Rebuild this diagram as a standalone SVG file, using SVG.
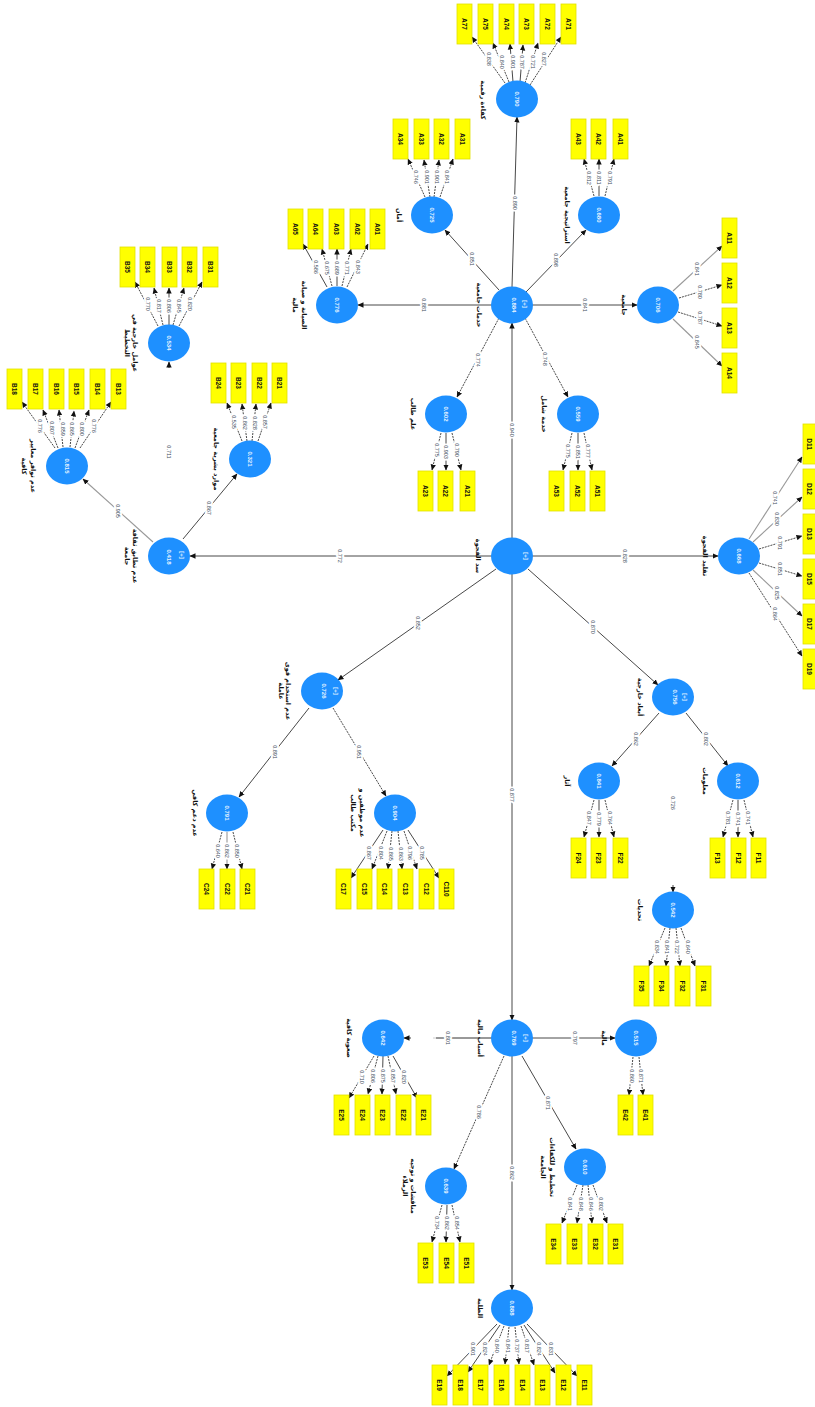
<svg xmlns="http://www.w3.org/2000/svg" width="815" height="1407" viewBox="0 0 815 1407">
<style>
text{text-anchor:middle;dominant-baseline:central}
.bg{fill:#fff}
.i{width:15px;height:40px;fill:#ff0;stroke:#e2e000;stroke-width:.8}
.n{fill:#1e90ff}
.t{font:bold 6.5px "Liberation Sans",sans-serif;fill:#111}
.v{font:bold 6px "Liberation Sans",sans-serif;fill:#e8f4ff}
.a{font:bold 6.5px "DejaVu Sans","Noto Sans",sans-serif;fill:#111}
.p{font:5.5px "Liberation Sans",sans-serif;fill:#3a4a5a;stroke:#fff;stroke-width:4px;paint-order:stroke;stroke-linejoin:round}
.f{font:5.5px "Liberation Sans",sans-serif;fill:#3a4a5a}
line{stroke:#333;stroke-width:.9;marker-end:url(#m)}
.d{stroke-dasharray:2 1}
.g{stroke:#999;stroke-width:1.1}
</style>
<defs><marker id="m" markerUnits="userSpaceOnUse" markerWidth="6" markerHeight="6" refX="5.5" refY="3" orient="auto"><path d="M0,.3 L6,3 L0,5.7 z" fill="#111"/></marker></defs>
<rect class="bg" width="815" height="1407"/>
<g id="connectors">
<line x1="512" y1="538" x2="512" y2="323"/>
<line x1="494" y1="556" x2="190" y2="556"/>
<line x1="530" y1="556" x2="718" y2="556"/>
<line x1="528" y1="569" x2="658" y2="685"/>
<line x1="496" y1="569" x2="338" y2="680"/>
<line x1="512" y1="574" x2="512" y2="1020"/>
<line x1="512" y1="287" x2="517" y2="117"/>
<line x1="499" y1="290" x2="445" y2="230"/>
<line x1="494" y1="305" x2="358" y2="305"/>
<line x1="526" y1="292" x2="586" y2="230"/>
<line x1="530" y1="305" x2="637" y2="305"/>
<line class="d" x1="525" y1="318" x2="568" y2="397"/>
<line class="d" x1="499" y1="318" x2="457" y2="397"/>
<line class="g" x1="153" y1="542" x2="83" y2="479"/>
<line x1="183" y1="539" x2="237" y2="474"/>
<line x1="309" y1="708" x2="239" y2="797"/>
<line class="d" x1="333" y1="708" x2="386" y2="796"/>
<line x1="659" y1="713" x2="612" y2="766"/>
<line x1="686" y1="713" x2="728" y2="766"/>
<path d="M494,1038H436" stroke="#333" fill="none"/><path d="M436,1038H433" stroke="#ccc" fill="none"/>
<line x1="411" y1="1038" x2="404" y2="1038"/>
<line x1="530" y1="1038" x2="615" y2="1038"/>
<line x1="522" y1="1056" x2="576" y2="1149"/>
<line class="d" x1="504" y1="1056" x2="454" y2="1169"/>
<line x1="512" y1="1056" x2="512" y2="1290"/>
<line x1="169" y1="368" x2="169" y2="362"/>
<line x1="673" y1="885" x2="673" y2="892"/>

<line class="d" x1="505" y1="83" x2="472" y2="37"/>
<line class="d" x1="509" y1="82" x2="493" y2="43"/>
<line x1="513" y1="82" x2="510" y2="44"/>
<line x1="520" y1="82" x2="523" y2="45"/>
<line class="d" x1="525" y1="83" x2="538" y2="43"/>
<line class="d" x1="530" y1="85" x2="561" y2="37"/>
<line class="d" x1="425" y1="197" x2="408" y2="159"/>
<line class="d" x1="430" y1="197" x2="424" y2="160"/>
<line class="d" x1="434" y1="197" x2="439" y2="160"/>
<line class="d" x1="440" y1="197" x2="453" y2="159"/>
<line x1="327" y1="287" x2="303" y2="244"/>
<line class="d" x1="332" y1="286" x2="322" y2="249"/>
<line x1="337" y1="286" x2="337" y2="249"/>
<line class="d" x1="342" y1="286" x2="351" y2="249"/>
<line class="d" x1="347" y1="287" x2="368" y2="244"/>
<line class="d" x1="594" y1="196" x2="584" y2="159"/>
<line x1="599" y1="196" x2="599" y2="159"/>
<line class="d" x1="605" y1="196" x2="614" y2="159"/>
<line class="g" x1="673" y1="291" x2="722" y2="246"/>
<line class="d" x1="679" y1="298" x2="722" y2="285"/>
<line class="d" x1="678" y1="312" x2="722" y2="326"/>
<line class="g" x1="673" y1="319" x2="722" y2="366"/>
<line class="d" x1="158" y1="326" x2="135" y2="282"/>
<line class="d" x1="163" y1="325" x2="154" y2="288"/>
<line x1="169" y1="325" x2="169" y2="288"/>
<line class="d" x1="173" y1="325" x2="184" y2="288"/>
<line class="d" x1="179" y1="326" x2="202" y2="282"/>
<line class="d" x1="55" y1="448" x2="22" y2="402"/>
<line class="d" x1="58" y1="448" x2="43" y2="410"/>
<line class="d" x1="63" y1="447" x2="59" y2="410"/>
<line class="d" x1="70" y1="447" x2="74" y2="411"/>
<line class="d" x1="75" y1="448" x2="89" y2="410"/>
<line class="d" x1="80" y1="448" x2="111" y2="402"/>
<line class="d" x1="242" y1="441" x2="227" y2="403"/>
<line class="d" x1="247" y1="441" x2="242" y2="404"/>
<line class="d" x1="252" y1="441" x2="256" y2="404"/>
<line class="d" x1="258" y1="441" x2="271" y2="403"/>
<line class="d" x1="441" y1="433" x2="432" y2="470"/>
<line x1="446" y1="433" x2="446" y2="470"/>
<line class="d" x1="452" y1="433" x2="461" y2="470"/>
<line class="d" x1="572" y1="433" x2="563" y2="470"/>
<line x1="578" y1="433" x2="578" y2="470"/>
<line class="d" x1="584" y1="433" x2="592" y2="470"/>
<line class="g" x1="749" y1="539" x2="802" y2="457"/>
<line class="g" x1="753" y1="542" x2="802" y2="497"/>
<line class="d" x1="759" y1="549" x2="802" y2="536"/>
<line class="d" x1="759" y1="563" x2="802" y2="576"/>
<line class="g" x1="753" y1="570" x2="802" y2="616"/>
<line class="d" x1="749" y1="573" x2="802" y2="656"/>
<line x1="383" y1="830" x2="351" y2="878"/>
<line class="d" x1="387" y1="831" x2="372" y2="869"/>
<line class="d" x1="392" y1="831" x2="388" y2="869"/>
<line class="d" x1="398" y1="831" x2="402" y2="869"/>
<line class="d" x1="404" y1="831" x2="417" y2="869"/>
<line x1="408" y1="830" x2="439" y2="878"/>
<line class="d" x1="222" y1="832" x2="212" y2="869"/>
<line class="g" x1="227" y1="832" x2="227" y2="869"/>
<line class="d" x1="233" y1="832" x2="242" y2="869"/>
<line class="d" x1="594" y1="800" x2="584" y2="837"/>
<line x1="599" y1="800" x2="599" y2="837"/>
<line class="d" x1="605" y1="800" x2="614" y2="837"/>
<line class="d" x1="733" y1="800" x2="723" y2="837"/>
<line x1="738" y1="800" x2="738" y2="837"/>
<line class="d" x1="744" y1="800" x2="753" y2="837"/>
<line class="d" x1="665" y1="928" x2="649" y2="966"/>
<line class="d" x1="670" y1="928" x2="666" y2="966"/>
<line class="d" x1="676" y1="928" x2="680" y2="966"/>
<line class="d" x1="681" y1="928" x2="695" y2="966"/>
<line class="d" x1="374" y1="1056" x2="349" y2="1098"/>
<line class="d" x1="378" y1="1056" x2="368" y2="1094"/>
<line x1="383" y1="1056" x2="382" y2="1094"/>
<line class="d" x1="388" y1="1056" x2="396" y2="1094"/>
<line x1="393" y1="1056" x2="417" y2="1098"/>
<line class="d" x1="633" y1="1057" x2="629" y2="1095"/>
<line class="d" x1="639" y1="1057" x2="643" y2="1095"/>
<line class="d" x1="577" y1="1185" x2="562" y2="1223"/>
<line class="d" x1="583" y1="1185" x2="577" y2="1223"/>
<line class="d" x1="588" y1="1185" x2="592" y2="1223"/>
<line class="d" x1="593" y1="1185" x2="607" y2="1223"/>
<line class="d" x1="442" y1="1205" x2="432" y2="1242"/>
<line x1="447" y1="1205" x2="446" y2="1242"/>
<line class="d" x1="452" y1="1205" x2="460" y2="1242"/>
<line x1="497" y1="1324" x2="447" y2="1376"/>
<line x1="500" y1="1325" x2="468" y2="1372"/>
<line class="d" x1="504" y1="1326" x2="489" y2="1365"/>
<line class="d" x1="509" y1="1327" x2="505" y2="1364"/>
<line class="d" x1="515" y1="1327" x2="519" y2="1364"/>
<line class="d" x1="521" y1="1326" x2="534" y2="1365"/>
<line x1="524" y1="1325" x2="555" y2="1373"/>
<line x1="527" y1="1324" x2="577" y2="1376"/>

<text class="p" transform="translate(512,430) rotate(90)">0.940</text>
<text class="p" transform="translate(340,556) rotate(90)">0.772</text>
<text class="p" transform="translate(625,556) rotate(90)">0.828</text>
<text class="p" transform="translate(593,627) rotate(90)">0.870</text>
<text class="p" transform="translate(418,623) rotate(90)">0.852</text>
<text class="p" transform="translate(512,795) rotate(90)">0.877</text>
<text class="p" transform="translate(515,203) rotate(90)">0.890</text>
<text class="p" transform="translate(472,259) rotate(90)">0.851</text>
<text class="p" transform="translate(424,305) rotate(90)">0.881</text>
<text class="p" transform="translate(556,260) rotate(90)">0.898</text>
<text class="p" transform="translate(585,305) rotate(90)">0.841</text>
<text class="p" transform="translate(545,359) rotate(90)">0.748</text>
<text class="p" transform="translate(478,360) rotate(90)">0.774</text>
<text class="p" transform="translate(118,511) rotate(90)">0.905</text>
<text class="p" transform="translate(209,508) rotate(90)">0.867</text>
<text class="p" transform="translate(275,752) rotate(90)">0.891</text>
<text class="p" transform="translate(359,752) rotate(90)">0.951</text>
<text class="p" transform="translate(636,739) rotate(90)">0.862</text>
<text class="p" transform="translate(706,739) rotate(90)">0.802</text>
<text class="p" transform="translate(448,1038) rotate(90)">0.801</text>
<text class="p" transform="translate(575,1038) rotate(90)">0.797</text>
<text class="p" transform="translate(548,1103) rotate(90)">0.871</text>
<text class="p" transform="translate(479,1112) rotate(90)">0.786</text>
<text class="p" transform="translate(512,1173) rotate(90)">0.862</text>

<text class="p" transform="translate(489,59) rotate(90)">0.838</text>
<text class="p" transform="translate(502,62) rotate(90)">0.840</text>
<text class="p" transform="translate(513,62) rotate(90)">0.901</text>
<text class="p" transform="translate(522,62) rotate(90)">0.787</text>
<text class="p" transform="translate(533,62) rotate(90)">0.721</text>
<text class="p" transform="translate(544,59) rotate(90)">0.827</text>
<text class="p" transform="translate(416,177) rotate(90)">0.746</text>
<text class="p" transform="translate(427,177) rotate(90)">0.901</text>
<text class="p" transform="translate(437,177) rotate(90)">0.901</text>
<text class="p" transform="translate(447,177) rotate(90)">0.841</text>
<text class="p" transform="translate(316,267) rotate(90)">0.586</text>
<text class="p" transform="translate(327,268) rotate(90)">0.675</text>
<text class="p" transform="translate(337,268) rotate(90)">0.689</text>
<text class="p" transform="translate(347,268) rotate(90)">0.771</text>
<text class="p" transform="translate(358,267) rotate(90)">0.843</text>
<text class="p" transform="translate(589,178) rotate(90)">0.812</text>
<text class="p" transform="translate(599,178) rotate(90)">0.811</text>
<text class="p" transform="translate(610,178) rotate(90)">0.791</text>
<text class="p" transform="translate(697,269) rotate(90)">0.841</text>
<text class="p" transform="translate(700,292) rotate(90)">0.780</text>
<text class="p" transform="translate(700,318) rotate(90)">0.787</text>
<text class="p" transform="translate(697,342) rotate(90)">0.845</text>
<text class="p" transform="translate(148,304) rotate(90)">0.770</text>
<text class="p" transform="translate(159,306) rotate(90)">0.817</text>
<text class="p" transform="translate(169,306) rotate(90)">0.806</text>
<text class="p" transform="translate(179,306) rotate(90)">0.845</text>
<text class="p" transform="translate(190,304) rotate(90)">0.820</text>
<text class="p" transform="translate(40,426) rotate(90)">0.776</text>
<text class="p" transform="translate(52,428) rotate(90)">0.807</text>
<text class="p" transform="translate(63,429) rotate(90)">0.859</text>
<text class="p" transform="translate(72,429) rotate(90)">0.865</text>
<text class="p" transform="translate(82,429) rotate(90)">0.800</text>
<text class="p" transform="translate(94,426) rotate(90)">0.776</text>
<text class="p" transform="translate(234,422) rotate(90)">0.535</text>
<text class="p" transform="translate(245,423) rotate(90)">0.862</text>
<text class="p" transform="translate(255,423) rotate(90)">0.828</text>
<text class="p" transform="translate(265,422) rotate(90)">0.857</text>
<text class="p" transform="translate(437,450) rotate(90)">0.775</text>
<text class="p" transform="translate(446,452) rotate(90)">0.903</text>
<text class="p" transform="translate(457,450) rotate(90)">0.790</text>
<text class="p" transform="translate(568,451) rotate(90)">0.775</text>
<text class="p" transform="translate(578,452) rotate(90)">0.851</text>
<text class="p" transform="translate(588,451) rotate(90)">0.777</text>
<text class="p" transform="translate(775,498) rotate(90)">0.741</text>
<text class="p" transform="translate(777,519) rotate(90)">0.830</text>
<text class="p" transform="translate(780,543) rotate(90)">0.791</text>
<text class="p" transform="translate(780,569) rotate(90)">0.851</text>
<text class="p" transform="translate(777,593) rotate(90)">0.825</text>
<text class="p" transform="translate(775,614) rotate(90)">0.864</text>
<text class="p" transform="translate(369,853) rotate(90)">0.867</text>
<text class="p" transform="translate(381,853) rotate(90)">0.804</text>
<text class="p" transform="translate(391,854) rotate(90)">0.865</text>
<text class="p" transform="translate(401,854) rotate(90)">0.863</text>
<text class="p" transform="translate(410,853) rotate(90)">0.796</text>
<text class="p" transform="translate(422,853) rotate(90)">0.785</text>
<text class="p" transform="translate(218,851) rotate(90)">0.640</text>
<text class="p" transform="translate(227,851) rotate(90)">0.862</text>
<text class="p" transform="translate(237,851) rotate(90)">0.850</text>
<text class="p" transform="translate(589,818) rotate(90)">0.847</text>
<text class="p" transform="translate(599,819) rotate(90)">0.779</text>
<text class="p" transform="translate(610,818) rotate(90)">0.764</text>
<text class="p" transform="translate(728,818) rotate(90)">0.781</text>
<text class="p" transform="translate(738,819) rotate(90)">0.741</text>
<text class="p" transform="translate(748,818) rotate(90)">0.741</text>
<text class="p" transform="translate(657,947) rotate(90)">0.834</text>
<text class="p" transform="translate(667,947) rotate(90)">0.841</text>
<text class="p" transform="translate(677,947) rotate(90)">0.722</text>
<text class="p" transform="translate(688,947) rotate(90)">0.640</text>
<text class="p" transform="translate(362,1077) rotate(90)">0.710</text>
<text class="p" transform="translate(373,1076) rotate(90)">0.806</text>
<text class="p" transform="translate(383,1076) rotate(90)">0.875</text>
<text class="p" transform="translate(393,1076) rotate(90)">0.857</text>
<text class="p" transform="translate(404,1077) rotate(90)">0.820</text>
<text class="p" transform="translate(632,1076) rotate(90)">0.860</text>
<text class="p" transform="translate(641,1076) rotate(90)">0.871</text>
<text class="p" transform="translate(570,1204) rotate(90)">0.841</text>
<text class="p" transform="translate(581,1204) rotate(90)">0.848</text>
<text class="p" transform="translate(591,1204) rotate(90)">0.846</text>
<text class="p" transform="translate(601,1204) rotate(90)">0.802</text>
<text class="p" transform="translate(437,1223) rotate(90)">0.734</text>
<text class="p" transform="translate(447,1223) rotate(90)">0.862</text>
<text class="p" transform="translate(457,1223) rotate(90)">0.854</text>
<text class="p" transform="translate(473,1349) rotate(90)">0.901</text>
<text class="p" transform="translate(485,1349) rotate(90)">0.824</text>
<text class="p" transform="translate(497,1346) rotate(90)">0.840</text>
<text class="p" transform="translate(508,1346) rotate(90)">0.841</text>
<text class="p" transform="translate(517,1346) rotate(90)">0.737</text>
<text class="p" transform="translate(527,1346) rotate(90)">0.817</text>
<text class="p" transform="translate(539,1349) rotate(90)">0.824</text>
<text class="p" transform="translate(551,1349) rotate(90)">0.831</text>
</g>

<g id="latent">
<g id="c0"><ellipse class="n" cx="512" cy="556" rx="21" ry="18.5"/><text class="v" transform="translate(526,556) rotate(90)">[+]</text><text class="a" transform="translate(478,556) rotate(90)">سد الفجوة</text></g>
<g id="c884"><ellipse class="n" cx="512" cy="305" rx="21" ry="18.5"/><text class="v" transform="translate(514,305) rotate(90)">0.884</text><text class="v" transform="translate(525,304) rotate(90)">[+]</text><text class="a" transform="translate(479,305) rotate(90)">خدمات جامعية</text></g>
<g id="c790"><ellipse class="n" cx="517" cy="99" rx="21" ry="18.5"/><text class="v" transform="translate(517,99) rotate(90)">0.790</text><text class="a" transform="translate(483,100) rotate(90)">كفاءة رقمية</text></g>
<g id="c725"><ellipse class="n" cx="432" cy="215" rx="21" ry="18.5"/><text class="v" transform="translate(432,215) rotate(90)">0.725</text><text class="a" transform="translate(399,215) rotate(90)">أمان</text></g>
<g id="c776"><ellipse class="n" cx="337" cy="305" rx="21" ry="18.5"/><text class="v" transform="translate(337,305) rotate(90)">0.776</text><text class="a" transform="translate(304,305) rotate(90)">الصيانة و صيانة</text><text class="a" transform="translate(295,305) rotate(90)">مالية</text></g>
<g id="c680"><ellipse class="n" cx="599" cy="215" rx="21" ry="18.5"/><text class="v" transform="translate(599,215) rotate(90)">0.680</text><text class="a" transform="translate(567,215) rotate(90)">استراتيجية جامعية</text></g>
<g id="c706"><ellipse class="n" cx="658" cy="305" rx="21" ry="18.5"/><text class="v" transform="translate(658,305) rotate(90)">0.706</text><text class="a" transform="translate(624,305) rotate(90)">جامعية</text></g>
<g id="c559"><ellipse class="n" cx="578" cy="414" rx="21" ry="18.5"/><text class="v" transform="translate(578,414) rotate(90)">0.559</text><text class="a" transform="translate(544,414) rotate(90)">خدمة شامل</text></g>
<g id="c602"><ellipse class="n" cx="446" cy="414" rx="21" ry="18.5"/><text class="v" transform="translate(446,414) rotate(90)">0.602</text><text class="a" transform="translate(413,414) rotate(90)">علم طالب</text></g>
<g id="c534"><ellipse class="n" cx="169" cy="343" rx="21" ry="18.5"/><text class="v" transform="translate(169,343) rotate(90)">0.534</text><text class="a" transform="translate(135,343) rotate(90)">عوامل خارجية في</text><text class="a" transform="translate(127,343) rotate(90)">التخطيط</text></g>
<g id="c815"><ellipse class="n" cx="67" cy="466" rx="21" ry="18.5"/><text class="v" transform="translate(67,466) rotate(90)">0.815</text><text class="a" transform="translate(33,466) rotate(90)">عدم توافر معايير</text><text class="a" transform="translate(24,466) rotate(90)">كافية</text></g>
<g id="c321"><ellipse class="n" cx="250" cy="459" rx="21" ry="18.5"/><text class="v" transform="translate(250,459) rotate(90)">0.321</text><text class="a" transform="translate(216,459) rotate(90)">موارد بشرية جامعية</text></g>
<g id="c418"><ellipse class="n" cx="169" cy="556" rx="21" ry="18.5"/><text class="v" transform="translate(169,557) rotate(90)">0.418</text><text class="v" transform="translate(182,555) rotate(90)">[+]</text><text class="a" transform="translate(135,556) rotate(90)">عدم تطابق ثقافة</text><text class="a" transform="translate(127,556) rotate(90)">جامعة</text></g>
<g id="c668"><ellipse class="n" cx="739" cy="556" rx="21" ry="18.5"/><text class="v" transform="translate(739,556) rotate(90)">0.668</text><text class="a" transform="translate(705,556) rotate(90)">تقليد الفجوة</text></g>
<g id="c756"><ellipse class="n" cx="673" cy="697" rx="21" ry="18.5"/><text class="v" transform="translate(675,697) rotate(90)">0.756</text><text class="v" transform="translate(685,697) rotate(90)">[+]</text><text class="a" transform="translate(640,697) rotate(90)">أبعاد خارجية</text></g>
<g id="c726"><ellipse class="n" cx="322" cy="691" rx="21" ry="18.5"/><text class="v" transform="translate(324,691) rotate(90)">0.726</text><text class="v" transform="translate(336,691) rotate(90)">[+]</text><text class="a" transform="translate(288,691) rotate(90)">عدم استخدام قوى</text><text class="a" transform="translate(281,691) rotate(90)">عاملة</text></g>
<g id="c791"><ellipse class="n" cx="227" cy="813" rx="21" ry="18.5"/><text class="v" transform="translate(227,813) rotate(90)">0.791</text><text class="a" transform="translate(195,813) rotate(90)">عدم دعم كافي</text></g>
<g id="c904"><ellipse class="n" cx="395" cy="813" rx="21" ry="18.5"/><text class="v" transform="translate(395,813) rotate(90)">0.904</text><text class="a" transform="translate(362,813) rotate(90)">عدم موظفين و</text><text class="a" transform="translate(353,813) rotate(90)">مكتب طالب</text></g>
<g id="c841"><ellipse class="n" cx="599" cy="781" rx="21" ry="18.5"/><text class="v" transform="translate(599,781) rotate(90)">0.841</text><text class="a" transform="translate(567,781) rotate(90)">آثار</text></g>
<g id="c612"><ellipse class="n" cx="738" cy="781" rx="21" ry="18.5"/><text class="v" transform="translate(738,781) rotate(90)">0.612</text><text class="a" transform="translate(705,781) rotate(90)">معلومات</text></g>
<g id="c542"><ellipse class="n" cx="673" cy="910" rx="21" ry="18.5"/><text class="v" transform="translate(673,910) rotate(90)">0.542</text><text class="a" transform="translate(640,910) rotate(90)">تحديات</text></g>
<g id="c769"><ellipse class="n" cx="512" cy="1038" rx="21" ry="18.5"/><text class="v" transform="translate(514,1038) rotate(90)">0.769</text><text class="v" transform="translate(526,1038) rotate(90)">[+]</text><text class="a" transform="translate(480,1038) rotate(90)">أسباب مالية</text></g>
<g id="c642"><ellipse class="n" cx="383" cy="1038" rx="21" ry="18.5"/><text class="v" transform="translate(383,1038) rotate(90)">0.642</text><text class="a" transform="translate(349,1038) rotate(90)">صعوبة كافية</text></g>
<g id="c515"><ellipse class="n" cx="636" cy="1038" rx="21" ry="18.5"/><text class="v" transform="translate(636,1038) rotate(90)">0.515</text><text class="a" transform="translate(604,1038) rotate(90)">مالية</text></g>
<g id="c610"><ellipse class="n" cx="585" cy="1167" rx="21" ry="18.5"/><text class="v" transform="translate(585,1167) rotate(90)">0.610</text><text class="a" transform="translate(552,1167) rotate(90)">تخطيط و للكفاءات</text><text class="a" transform="translate(543,1167) rotate(90)">الجامعة</text></g>
<g id="c639"><ellipse class="n" cx="446" cy="1186" rx="21" ry="18.5"/><text class="v" transform="translate(446,1186) rotate(90)">0.639</text><text class="a" transform="translate(413,1186) rotate(90)">مناقشات و توجيه</text><text class="a" transform="translate(405,1186) rotate(90)">الزملاء</text></g>
<g id="c888"><ellipse class="n" cx="512" cy="1308" rx="21" ry="18.5"/><text class="v" transform="translate(512,1308) rotate(90)">0.888</text><text class="a" transform="translate(480,1308) rotate(90)">الطلبة</text></g>
<text class="f" transform="translate(169,452) rotate(90)">0.711</text>
<text class="f" transform="translate(673,803) rotate(90)">0.726</text>
</g>

<g id="indicators">
<g id="A77"><rect class="i" x="457" y="4"/><text class="t" transform="translate(464.5,24) rotate(90)">A77</text></g>
<g id="A75"><rect class="i" x="478" y="4"/><text class="t" transform="translate(485.5,24) rotate(90)">A75</text></g>
<g id="A74"><rect class="i" x="499" y="4"/><text class="t" transform="translate(506.5,24) rotate(90)">A74</text></g>
<g id="A73"><rect class="i" x="519" y="4"/><text class="t" transform="translate(526.5,24) rotate(90)">A73</text></g>
<g id="A72"><rect class="i" x="540" y="4"/><text class="t" transform="translate(547.5,24) rotate(90)">A72</text></g>
<g id="A71"><rect class="i" x="561" y="4"/><text class="t" transform="translate(568.5,24) rotate(90)">A71</text></g>
<g id="A34"><rect class="i" x="393" y="119"/><text class="t" transform="translate(400.5,139) rotate(90)">A34</text></g>
<g id="A33"><rect class="i" x="414" y="119"/><text class="t" transform="translate(421.5,139) rotate(90)">A33</text></g>
<g id="A32"><rect class="i" x="434" y="119"/><text class="t" transform="translate(441.5,139) rotate(90)">A32</text></g>
<g id="A31"><rect class="i" x="455" y="119"/><text class="t" transform="translate(462.5,139) rotate(90)">A31</text></g>
<g id="A65"><rect class="i" x="288" y="209"/><text class="t" transform="translate(295.5,229) rotate(90)">A65</text></g>
<g id="A64"><rect class="i" x="308" y="209"/><text class="t" transform="translate(315.5,229) rotate(90)">A64</text></g>
<g id="A63"><rect class="i" x="329" y="209"/><text class="t" transform="translate(336.5,229) rotate(90)">A63</text></g>
<g id="A62"><rect class="i" x="350" y="209"/><text class="t" transform="translate(357.5,229) rotate(90)">A62</text></g>
<g id="A61"><rect class="i" x="370" y="209"/><text class="t" transform="translate(377.5,229) rotate(90)">A61</text></g>
<g id="A43"><rect class="i" x="571" y="119"/><text class="t" transform="translate(578.5,139) rotate(90)">A43</text></g>
<g id="A42"><rect class="i" x="591" y="119"/><text class="t" transform="translate(598.5,139) rotate(90)">A42</text></g>
<g id="A41"><rect class="i" x="613" y="119"/><text class="t" transform="translate(620.5,139) rotate(90)">A41</text></g>
<g id="A11"><rect class="i" x="722" y="218"/><text class="t" transform="translate(729.5,238) rotate(90)">A11</text></g>
<g id="A12"><rect class="i" x="722" y="263"/><text class="t" transform="translate(729.5,283) rotate(90)">A12</text></g>
<g id="A13"><rect class="i" x="722" y="308"/><text class="t" transform="translate(729.5,328) rotate(90)">A13</text></g>
<g id="A14"><rect class="i" x="722" y="353"/><text class="t" transform="translate(729.5,373) rotate(90)">A14</text></g>
<g id="A23"><rect class="i" x="418" y="471"/><text class="t" transform="translate(425.5,491) rotate(90)">A23</text></g>
<g id="A22"><rect class="i" x="438" y="471"/><text class="t" transform="translate(445.5,491) rotate(90)">A22</text></g>
<g id="A21"><rect class="i" x="460" y="471"/><text class="t" transform="translate(467.5,491) rotate(90)">A21</text></g>
<g id="A53"><rect class="i" x="549" y="471"/><text class="t" transform="translate(556.5,491) rotate(90)">A53</text></g>
<g id="A52"><rect class="i" x="570" y="471"/><text class="t" transform="translate(577.5,491) rotate(90)">A52</text></g>
<g id="A51"><rect class="i" x="590" y="471"/><text class="t" transform="translate(597.5,491) rotate(90)">A51</text></g>
<g id="B35"><rect class="i" x="120" y="247"/><text class="t" transform="translate(127.5,267) rotate(90)">B35</text></g>
<g id="B34"><rect class="i" x="140" y="247"/><text class="t" transform="translate(147.5,267) rotate(90)">B34</text></g>
<g id="B33"><rect class="i" x="162" y="247"/><text class="t" transform="translate(169.5,267) rotate(90)">B33</text></g>
<g id="B32"><rect class="i" x="182" y="247"/><text class="t" transform="translate(189.5,267) rotate(90)">B32</text></g>
<g id="B31"><rect class="i" x="203" y="247"/><text class="t" transform="translate(210.5,267) rotate(90)">B31</text></g>
<g id="B18"><rect class="i" x="7" y="369"/><text class="t" transform="translate(14.5,389) rotate(90)">B18</text></g>
<g id="B17"><rect class="i" x="28" y="369"/><text class="t" transform="translate(35.5,389) rotate(90)">B17</text></g>
<g id="B16"><rect class="i" x="49" y="369"/><text class="t" transform="translate(56.5,389) rotate(90)">B16</text></g>
<g id="B15"><rect class="i" x="69" y="369"/><text class="t" transform="translate(76.5,389) rotate(90)">B15</text></g>
<g id="B14"><rect class="i" x="90" y="369"/><text class="t" transform="translate(97.5,389) rotate(90)">B14</text></g>
<g id="B13"><rect class="i" x="111" y="369"/><text class="t" transform="translate(118.5,389) rotate(90)">B13</text></g>
<g id="B24"><rect class="i" x="211" y="363"/><text class="t" transform="translate(218.5,383) rotate(90)">B24</text></g>
<g id="B23"><rect class="i" x="231" y="363"/><text class="t" transform="translate(238.5,383) rotate(90)">B23</text></g>
<g id="B22"><rect class="i" x="252" y="363"/><text class="t" transform="translate(259.5,383) rotate(90)">B22</text></g>
<g id="B21"><rect class="i" x="272" y="363"/><text class="t" transform="translate(279.5,383) rotate(90)">B21</text></g>
<g id="D11"><rect class="i" x="803" y="424"/><text class="t" transform="translate(809,444) rotate(90)">D11</text></g>
<g id="D12"><rect class="i" x="803" y="469"/><text class="t" transform="translate(809,489) rotate(90)">D12</text></g>
<g id="D13"><rect class="i" x="803" y="514"/><text class="t" transform="translate(809,534) rotate(90)">D13</text></g>
<g id="D15"><rect class="i" x="803" y="559"/><text class="t" transform="translate(809,579) rotate(90)">D15</text></g>
<g id="D17"><rect class="i" x="803" y="604"/><text class="t" transform="translate(809,624) rotate(90)">D17</text></g>
<g id="D19"><rect class="i" x="803" y="649"/><text class="t" transform="translate(809,669) rotate(90)">D19</text></g>
<g id="C4"><rect class="i" x="199" y="869"/><text class="t" transform="translate(206.5,889) rotate(90)">C24</text></g>
<g id="C2"><rect class="i" x="220" y="869"/><text class="t" transform="translate(227.5,889) rotate(90)">C22</text></g>
<g id="C1"><rect class="i" x="240" y="869"/><text class="t" transform="translate(247.5,889) rotate(90)">C21</text></g>
<g id="C17"><rect class="i" x="336" y="869"/><text class="t" transform="translate(343.5,889) rotate(90)">C17</text></g>
<g id="C15"><rect class="i" x="357" y="869"/><text class="t" transform="translate(364.5,889) rotate(90)">C15</text></g>
<g id="C14"><rect class="i" x="377" y="869"/><text class="t" transform="translate(384.5,889) rotate(90)">C14</text></g>
<g id="C13"><rect class="i" x="398" y="869"/><text class="t" transform="translate(405.5,889) rotate(90)">C13</text></g>
<g id="C12"><rect class="i" x="419" y="869"/><text class="t" transform="translate(426.5,889) rotate(90)">C12</text></g>
<g id="C110"><rect class="i" x="439" y="869"/><text class="t" transform="translate(446.5,889) rotate(90)">C110</text></g>
<g id="F24"><rect class="i" x="571" y="838"/><text class="t" transform="translate(578.5,858) rotate(90)">F24</text></g>
<g id="F23"><rect class="i" x="591" y="838"/><text class="t" transform="translate(598.5,858) rotate(90)">F23</text></g>
<g id="F22"><rect class="i" x="613" y="838"/><text class="t" transform="translate(620.5,858) rotate(90)">F22</text></g>
<g id="F13"><rect class="i" x="710" y="838"/><text class="t" transform="translate(717.5,858) rotate(90)">F13</text></g>
<g id="F12"><rect class="i" x="731" y="838"/><text class="t" transform="translate(738.5,858) rotate(90)">F12</text></g>
<g id="F11"><rect class="i" x="751" y="838"/><text class="t" transform="translate(758.5,858) rotate(90)">F11</text></g>
<g id="F35"><rect class="i" x="634" y="966"/><text class="t" transform="translate(641.5,986) rotate(90)">F35</text></g>
<g id="F34"><rect class="i" x="654" y="966"/><text class="t" transform="translate(661.5,986) rotate(90)">F34</text></g>
<g id="F32"><rect class="i" x="675" y="966"/><text class="t" transform="translate(682.5,986) rotate(90)">F32</text></g>
<g id="F31"><rect class="i" x="696" y="966"/><text class="t" transform="translate(703.5,986) rotate(90)">F31</text></g>
<g id="E25"><rect class="i" x="334" y="1095"/><text class="t" transform="translate(341.5,1115) rotate(90)">E25</text></g>
<g id="E24"><rect class="i" x="355" y="1095"/><text class="t" transform="translate(362.5,1115) rotate(90)">E24</text></g>
<g id="E23"><rect class="i" x="375" y="1095"/><text class="t" transform="translate(382.5,1115) rotate(90)">E23</text></g>
<g id="E22"><rect class="i" x="396" y="1095"/><text class="t" transform="translate(403.5,1115) rotate(90)">E22</text></g>
<g id="E21"><rect class="i" x="416" y="1095"/><text class="t" transform="translate(423.5,1115) rotate(90)">E21</text></g>
<g id="E42"><rect class="i" x="618" y="1095"/><text class="t" transform="translate(625.5,1115) rotate(90)">E42</text></g>
<g id="E41"><rect class="i" x="638" y="1095"/><text class="t" transform="translate(645.5,1115) rotate(90)">E41</text></g>
<g id="E34"><rect class="i" x="546" y="1224"/><text class="t" transform="translate(553.5,1244) rotate(90)">E34</text></g>
<g id="E33"><rect class="i" x="567" y="1224"/><text class="t" transform="translate(574.5,1244) rotate(90)">E33</text></g>
<g id="E32"><rect class="i" x="588" y="1224"/><text class="t" transform="translate(595.5,1244) rotate(90)">E32</text></g>
<g id="E31"><rect class="i" x="608" y="1224"/><text class="t" transform="translate(615.5,1244) rotate(90)">E31</text></g>
<g id="E53"><rect class="i" x="418" y="1243"/><text class="t" transform="translate(425.5,1263) rotate(90)">E53</text></g>
<g id="E54"><rect class="i" x="439" y="1243"/><text class="t" transform="translate(446.5,1263) rotate(90)">E54</text></g>
<g id="E51"><rect class="i" x="459" y="1243"/><text class="t" transform="translate(466.5,1263) rotate(90)">E51</text></g>
<g id="E19"><rect class="i" x="432" y="1365"/><text class="t" transform="translate(439.5,1385) rotate(90)">E19</text></g>
<g id="E18"><rect class="i" x="453" y="1365"/><text class="t" transform="translate(460.5,1385) rotate(90)">E18</text></g>
<g id="E17"><rect class="i" x="473" y="1365"/><text class="t" transform="translate(480.5,1385) rotate(90)">E17</text></g>
<g id="E16"><rect class="i" x="494" y="1365"/><text class="t" transform="translate(501.5,1385) rotate(90)">E16</text></g>
<g id="E14"><rect class="i" x="515" y="1365"/><text class="t" transform="translate(522.5,1385) rotate(90)">E14</text></g>
<g id="E13"><rect class="i" x="535" y="1365"/><text class="t" transform="translate(542.5,1385) rotate(90)">E13</text></g>
<g id="E12"><rect class="i" x="556" y="1365"/><text class="t" transform="translate(563.5,1385) rotate(90)">E12</text></g>
<g id="E11"><rect class="i" x="577" y="1365"/><text class="t" transform="translate(584.5,1385) rotate(90)">E11</text></g>
</g>
</svg>
